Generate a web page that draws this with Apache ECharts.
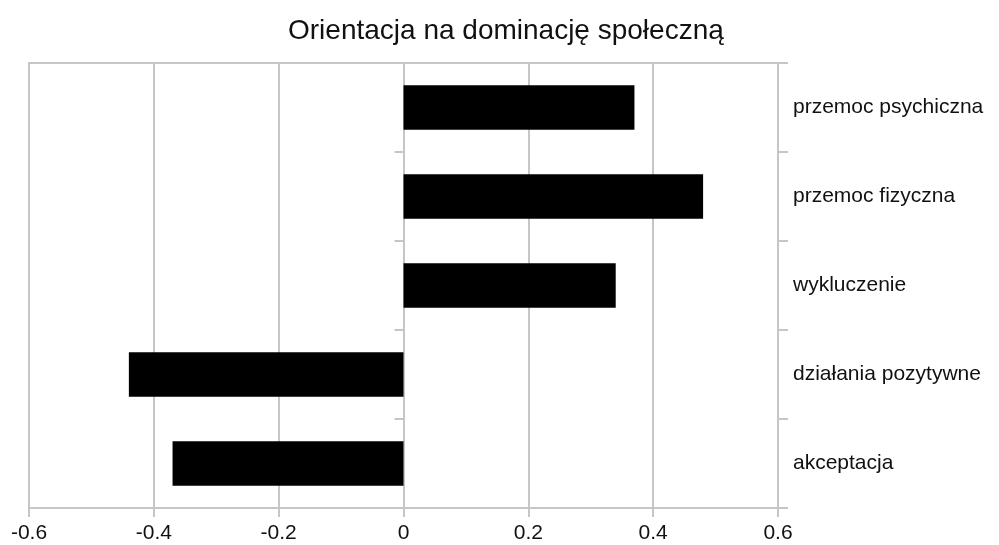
<!DOCTYPE html>
<html>
<head>
<meta charset="utf-8">
<title>Orientacja na dominację społeczną</title>
<script src="https://cdn.jsdelivr.net/npm/echarts@6/dist/echarts.min.js"></script>
<style>
  html,body{margin:0;padding:0;background:#fff;}
  #chart{width:999px;height:545px;}
</style>
</head>
<body>
<div id="chart"></div>
<script>
// categories from bottom to top, as the category axis reads them
const categories = ['akceptacja', 'działania pozytywne', 'wykluczenie', 'przemoc fizyczna', 'przemoc psychiczna'];
const values = [-0.37, -0.44, 0.34, 0.48, 0.37];
const xTicks = [-0.6, -0.4, -0.2, 0, 0.2, 0.4, 0.6];

const gridGray = '#c6c6c6';
const font = 'Liberation Sans, Arial, sans-serif';

const myChart = echarts.init(document.getElementById('chart'));

const option = {
    animation: false,
    title: {
        text: 'Orientacja na dominację społeczną',
        left: 283,
        top: 12,
        textStyle: {fontFamily: font, fontSize: 28, fontWeight: 'normal', color: '#111'}
    },
    grid: {
        left: 29, right: 221, top: 63, bottom: 37,
        show: true, borderColor: gridGray, borderWidth: 2,
        containLabel: false
    },
    xAxis: {
        type: 'value',
        min: xTicks[0],
        max: xTicks[xTicks.length - 1],
        interval: 0.2,
        axisLine: {show: true, onZero: false, lineStyle: {color: gridGray, width: 2}},
        axisTick: {show: true, length: 9, lineStyle: {color: gridGray, width: 2}},
        splitLine: {show: true, lineStyle: {color: gridGray, width: 2}},
        axisLabel: {
            margin: 15,
            fontFamily: font, fontSize: 21, color: '#111',
            formatter: v => String(Math.round(v * 10) / 10)
        }
    },
    yAxis: [
        {
            type: 'category',
            data: categories,
            position: 'right',
            axisLine: {show: true, onZero: false, lineStyle: {color: gridGray, width: 2}},
            axisTick: {show: true, length: 10, lineStyle: {color: gridGray, width: 2}},
            axisLabel: {margin: 15, fontFamily: font, fontSize: 21, color: '#111'}
        },
        {
            type: 'category',
            data: categories,
            position: 'left',
            axisLine: {show: true, onZero: true, lineStyle: {color: gridGray, width: 2}},
            axisTick: {show: true, length: 9, lineStyle: {color: gridGray, width: 2}},
            axisLabel: {show: false}
        }
    ],
    series: [{
        type: 'bar',
        data: values,
        yAxisIndex: 0,
        barWidth: '50%',
        itemStyle: {color: '#000'}
    }]
};

myChart.setOption(option);
</script>
</body>
</html>
